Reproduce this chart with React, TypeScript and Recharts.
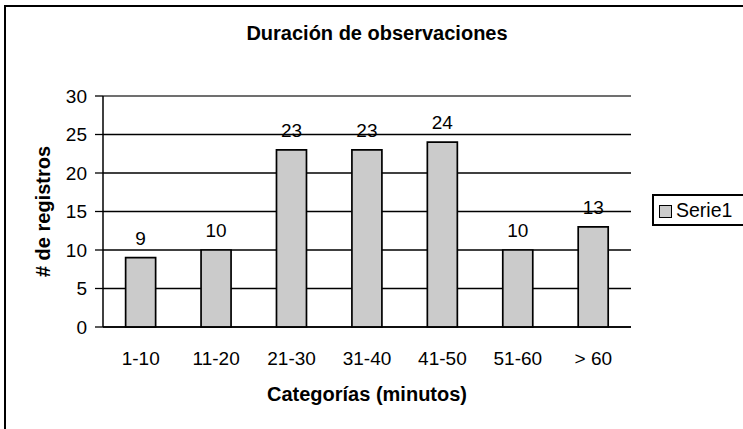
import {
  BarChart,
  Bar,
  XAxis,
  YAxis,
  CartesianGrid,
  Legend,
  LabelList,
  Label,
  ReferenceLine
} from "recharts";

const categorias = ["1-10", "11-20", "21-30", "31-40", "41-50", "51-60", "> 60"];
const registros = [9, 10, 23, 23, 24, 10, 13];
const yTicks = [0, 5, 10, 15, 20, 25, 30];
// bordes de cada categoría (las marcas del eje X van entre barras, como en Excel)
const bordes = [0, 1, 2, 3, 4, 5, 6, 7];

const FONT = "'Liberation Sans', Arial, sans-serif";

const data = categorias.map((c, i) => ({ categoria: c, registros: registros[i] }));

function LeyendaSerie(props: any) {
  const items = props.payload || [];
  return (
    <div
      style={{
        boxSizing: "border-box",
        width: 110,
        height: 32,
        border: "2px solid #000",
        background: "#fff",
        display: "flex",
        alignItems: "center",
        paddingLeft: 5,
        fontFamily: FONT
      }}
    >
      {items.map((entry: any, i: number) => (
        <div key={i} style={{ display: "flex", alignItems: "center" }}>
          <span
            style={{
              display: "inline-block",
              boxSizing: "border-box",
              width: 13,
              height: 13,
              marginTop: 3,
              marginRight: 4,
              background: "#CBCBCB",
              border: "1.5px solid #000"
            }}
          />
          <span style={{ fontSize: 19.5, lineHeight: "20px", color: "#000" }}>{entry.value}</span>
        </div>
      ))}
    </div>
  );
}

function EtiquetaY(props: any) {
  const vb = props.viewBox || { x: 0, y: 0, width: 0, height: 0 };
  const cx = vb.x + 42.5;
  const cy = vb.y + vb.height / 2;
  return (
    <text
      x={cx}
      y={cy}
      transform={`rotate(-90, ${cx}, ${cy})`}
      textAnchor="middle"
      dominantBaseline="central"
      fontSize={20}
      fontWeight="bold"
      fill="#000"
    >
      # de registros
    </text>
  );
}

export default function App() {
  return (
    <div
      style={{
        position: "absolute",
        left: 0,
        top: 0,
        width: 743,
        height: 429,
        overflow: "hidden",
        background: "#fff",
        fontFamily: FONT
      }}
    >
      <div
        style={{
          position: "absolute",
          left: 4,
          top: 5,
          width: 800,
          height: 500,
          borderLeft: "2px solid #000",
          borderTop: "2px solid #000"
        }}
      />
      <div
        style={{
          position: "absolute",
          left: 0,
          top: 23,
          width: 754,
          textAlign: "center",
          fontSize: 20,
          lineHeight: "20px",
          fontWeight: "bold",
          color: "#000"
        }}
      >
        Duración de observaciones
      </div>
      <BarChart
        width={743}
        height={429}
        data={data}
        margin={{ top: 96, right: 112, bottom: 0, left: 0 }}
        barCategoryGap="30%"
      >
        <CartesianGrid
          xAxisId="cat"
          yAxisId="left"
          vertical={false}
          stroke="#000"
          strokeWidth={1.3}
        />
        <XAxis
          xAxisId="bordes"
          type="number"
          domain={[0, 7]}
          ticks={bordes}
          allowDataOverflow
          height={0}
          tick={false}
          tickSize={7}
          tickLine={{ stroke: "#000", strokeWidth: 1.3 }}
          axisLine={{ stroke: "#000", strokeWidth: 1.5 }}
        />
        <XAxis
          xAxisId="cat"
          dataKey="categoria"
          height={102}
          tickLine={false}
          axisLine={{ stroke: "#000", strokeWidth: 1.5 }}
          tickMargin={19}
          interval={0}
          tick={{ fill: "#000", fontSize: 19 }}
        >
          <Label
            value="Categorías (minutos)"
            position="insideBottom"
            offset={28}
            style={{ fontSize: 20, fontWeight: "bold", fill: "#000" }}
          />
        </XAxis>
        <YAxis
          yAxisId="left"
          width={103}
          domain={[0, 30]}
          ticks={yTicks}
          tickSize={8}
          tickMargin={8}
          tickLine={{ stroke: "#000", strokeWidth: 1.3 }}
          axisLine={{ stroke: "#000", strokeWidth: 1.5 }}
          tick={{ fill: "#000", fontSize: 19 }}
        >
          <Label content={<EtiquetaY />} />
        </YAxis>
        <YAxis
          yAxisId="right"
          orientation="right"
          width={0}
          domain={[0, 30]}
          tick={false}
          tickLine={false}
          axisLine={{ stroke: "#808080", strokeWidth: 1.3 }}
        />
        <ReferenceLine xAxisId="cat" yAxisId="left" y={30} stroke="#808080" strokeWidth={1.5} />
        <Bar
          xAxisId="cat"
          yAxisId="left"
          dataKey="registros"
          name="Serie1"
          fill="#CBCBCB"
          stroke="#000"
          strokeWidth={1.7}
          isAnimationActive={false}
        >
          <LabelList dataKey="registros" position="top" offset={13} fill="#000" fontSize={19} />
        </Bar>
        <Legend
          layout="vertical"
          align="center"
          verticalAlign="middle"
          wrapperStyle={{ left: 652, top: 194, width: 110 }}
          content={<LeyendaSerie />}
        />
      </BarChart>
    </div>
  );
}
